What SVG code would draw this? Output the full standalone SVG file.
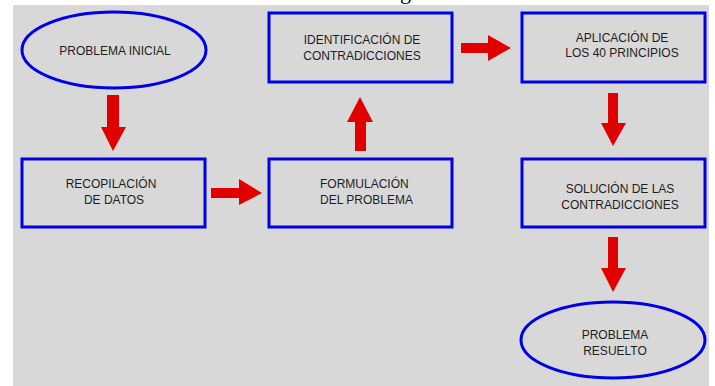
<svg xmlns="http://www.w3.org/2000/svg" width="715" height="386" viewBox="0 0 715 386">
  <style>
    .node { fill: none; stroke: #0000e6; stroke-width: 3; }
    .lbl { font-family: "Liberation Sans", Arial, sans-serif; font-size: 12px; fill: #1e1e1e; }
    .arrow { fill: #e00000; }
  </style>
  <rect x="0" y="0" width="715" height="386" fill="#ffffff"/>
  <rect x="13" y="5" width="696" height="381" fill="#d8d8d8"/>
  <text x="400" y="-1" font-family="Liberation Serif, serif" font-size="22" fill="#000">g</text>

  <g id="connectors">
    <polygon class="arrow" points="107,95 119,95 119,127 126,127 113,151 101,127 107,127"/>
    <polygon class="arrow" points="211,188 239,188 239,179 262,193 239,205 239,198 211,198"/>
    <polygon class="arrow" points="355,151 355,122 347,122 360,97 373,122 366,122 366,151"/>
    <polygon class="arrow" points="461,43 488,43 488,35 511,48 488,61 488,53 461,53"/>
    <polygon class="arrow" points="608,93 618,93 618,123 626,123 613,146 601,123 608,123"/>
    <polygon class="arrow" points="608,237 618,237 618,268 626,268 613,292 601,268 608,268"/>
  </g>

  <g id="problema-inicial">
    <ellipse class="node" cx="114" cy="50" rx="92" ry="38"/>
    <text class="lbl" x="115" y="55" text-anchor="middle">PROBLEMA INICIAL</text>
  </g>

  <g id="recopilacion">
    <rect class="node" x="22" y="159" width="183" height="68"/>
    <text class="lbl" x="111" y="188" text-anchor="middle">RECOPILACIÓN</text>
    <text class="lbl" x="114" y="204" text-anchor="middle">DE DATOS</text>
  </g>

  <g id="formulacion">
    <rect class="node" x="269" y="159" width="183" height="68"/>
    <text class="lbl" x="320" y="188">FORMULACIÓN</text>
    <text class="lbl" x="320" y="204">DEL PROBLEMA</text>
  </g>

  <g id="identificacion">
    <rect class="node" x="269" y="13" width="183" height="69"/>
    <text class="lbl" x="362" y="44" text-anchor="middle">IDENTIFICACIÓN DE</text>
    <text class="lbl" x="362" y="60" text-anchor="middle">CONTRADICCIONES</text>
  </g>

  <g id="aplicacion">
    <rect class="node" x="522" y="13" width="183" height="69"/>
    <text class="lbl" x="622" y="42" text-anchor="middle">APLICACIÓN DE</text>
    <text class="lbl" x="622" y="57" text-anchor="middle">LOS 40 PRINCIPIOS</text>
  </g>

  <g id="solucion">
    <rect class="node" x="522" y="159" width="183" height="68"/>
    <text class="lbl" x="620" y="193" text-anchor="middle">SOLUCIÓN DE LAS</text>
    <text class="lbl" x="620" y="209" text-anchor="middle">CONTRADICCIONES</text>
  </g>

  <g id="problema-resuelto">
    <ellipse class="node" cx="613" cy="340" rx="92" ry="38"/>
    <text class="lbl" x="615" y="339" text-anchor="middle">PROBLEMA</text>
    <text class="lbl" x="615" y="355" text-anchor="middle">RESUELTO</text>
  </g>
</svg>
